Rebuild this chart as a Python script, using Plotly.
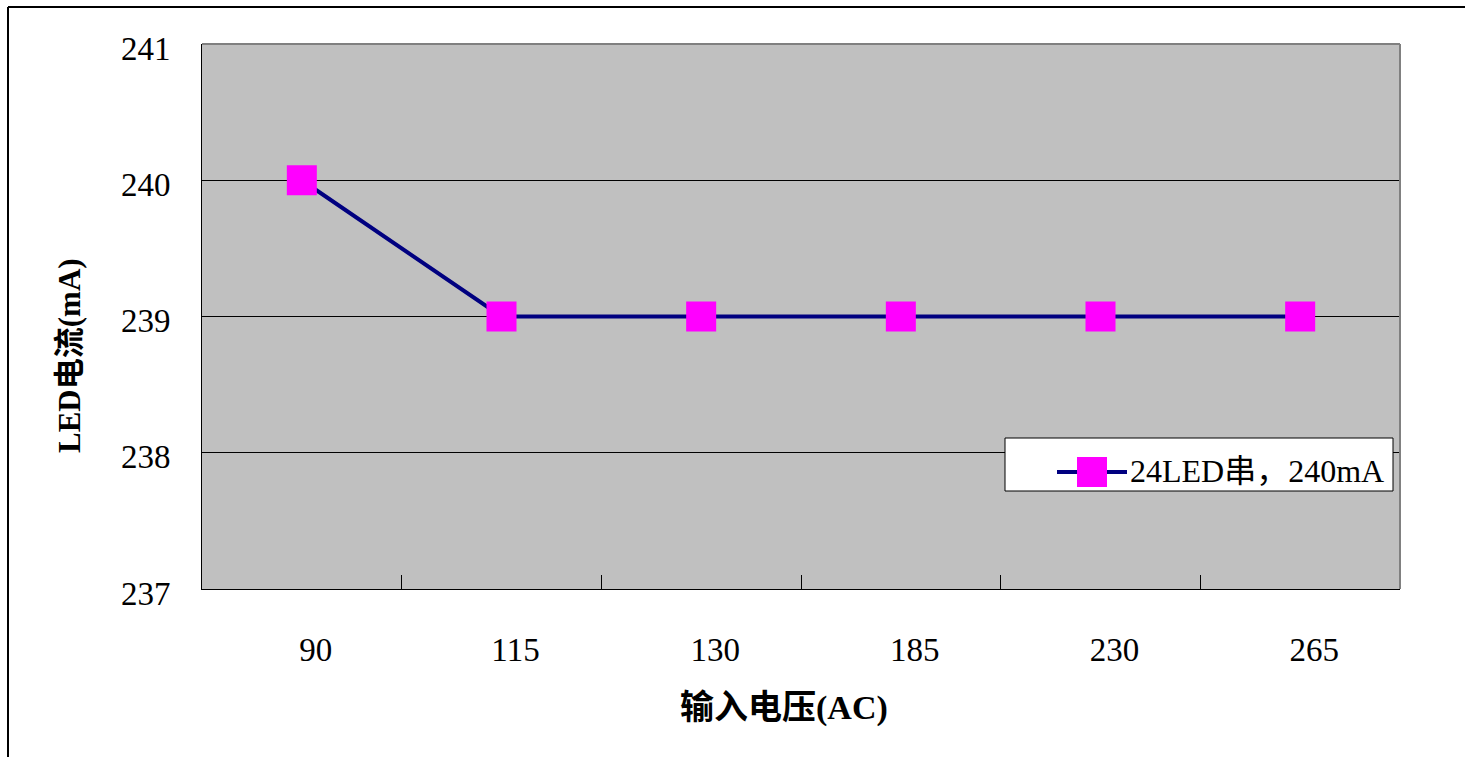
import plotly.graph_objects as go

categories = ["90", "115", "130", "185", "230", "265"]
current_ma = [240, 239, 239, 239, 239, 239]
series_name = "24LED串，240mA"
y_ticks = [237, 238, 239, 240, 241]

W, H = 1465, 757
L, R, T, B = 202, 1400, 44, 589
pw, ph = R - L, B - T

def px(x):
    return (x - L) / pw

def py(y):
    return (B - y) / ph

serif = "Liberation Serif, Noto Sans CJK SC, serif"

fig = go.Figure()
fig.add_trace(go.Scatter(
    x=categories, y=current_ma, mode="lines+markers", name=series_name,
    line=dict(color="#000080", width=4),
    marker=dict(symbol="square", size=30, color="#FF00FF", line=dict(width=0)),
    showlegend=False, cliponaxis=False,
))

shapes = [
    # outer chart border (top and left)
    dict(type="line", xref="paper", yref="paper", x0=px(8), x1=px(W + 5), y0=py(7), y1=py(7),
         line=dict(color="black", width=2)),
    dict(type="line", xref="paper", yref="paper", x0=px(8), x1=px(8), y0=py(7), y1=py(H + 5),
         line=dict(color="black", width=2)),
    # plot area gray border (top/right)
    dict(type="line", xref="paper", yref="paper", x0=0, x1=1, y0=1, y1=1,
         line=dict(color="#808080", width=2)),
    dict(type="line", xref="paper", yref="paper", x0=1, x1=1, y0=0, y1=1,
         line=dict(color="#808080", width=2)),
    # legend box
    dict(type="rect", xref="paper", yref="paper", x0=px(1005), x1=px(1393), y0=py(491), y1=py(438),
         fillcolor="white", line=dict(color="black", width=1)),
    dict(type="line", xref="paper", yref="paper", x0=px(1057), x1=px(1127), y0=py(472), y1=py(472),
         line=dict(color="#000080", width=4)),
    dict(type="rect", xref="paper", yref="paper", x0=px(1077), x1=px(1107), y0=py(487), y1=py(457),
         fillcolor="#FF00FF", line=dict(width=0)),
]

annotations = [
    dict(text=series_name, xref="paper", yref="paper", x=px(1128), y=py(471),
         xanchor="left", yanchor="middle", showarrow=False,
         font=dict(family=serif, size=32, color="black")),
    dict(text="LED电流(mA)", xref="paper", yref="paper", x=px(69), y=py(356),
         xanchor="center", yanchor="middle", textangle=-90, showarrow=False,
         font=dict(family=serif, size=31, color="black", weight="bold")),
    dict(text="输入电压(AC)", xref="paper", yref="paper", x=px(784), y=py(708),
         xanchor="center", yanchor="middle", showarrow=False,
         font=dict(family=serif, size=34, color="black", weight="bold")),
]

fig.update_layout(
    width=W, height=H,
    margin=dict(l=L, r=W - R, t=T, b=H - B),
    paper_bgcolor="white", plot_bgcolor="#C0C0C0",
    showlegend=False,
    shapes=shapes, annotations=annotations,
    xaxis=dict(
        type="category", categoryorder="array", categoryarray=categories,
        range=[-0.5, len(categories) - 0.5],
        showgrid=False, zeroline=False,
        showline=True, linecolor="black", linewidth=1,
        ticks="inside", tickson="boundaries", ticklen=14, tickcolor="black", tickwidth=1,
        tickfont=dict(family=serif, size=33, color="black"),
        ticklabelstandoff=31, ticklabelshift=14,
    ),
    yaxis=dict(
        range=[237, 241], tickvals=y_ticks, ticktext=[str(v) for v in y_ticks],
        showgrid=True, gridcolor="black", gridwidth=1, zeroline=False,
        showline=True, linecolor="black", linewidth=1,
        ticks="inside", ticklen=10, tickcolor="black", tickwidth=1,
        tickfont=dict(family=serif, size=33, color="black"),
        ticklabelstandoff=24, ticklabelshift=4,
    ),
)

fig.write_html("out.html")
